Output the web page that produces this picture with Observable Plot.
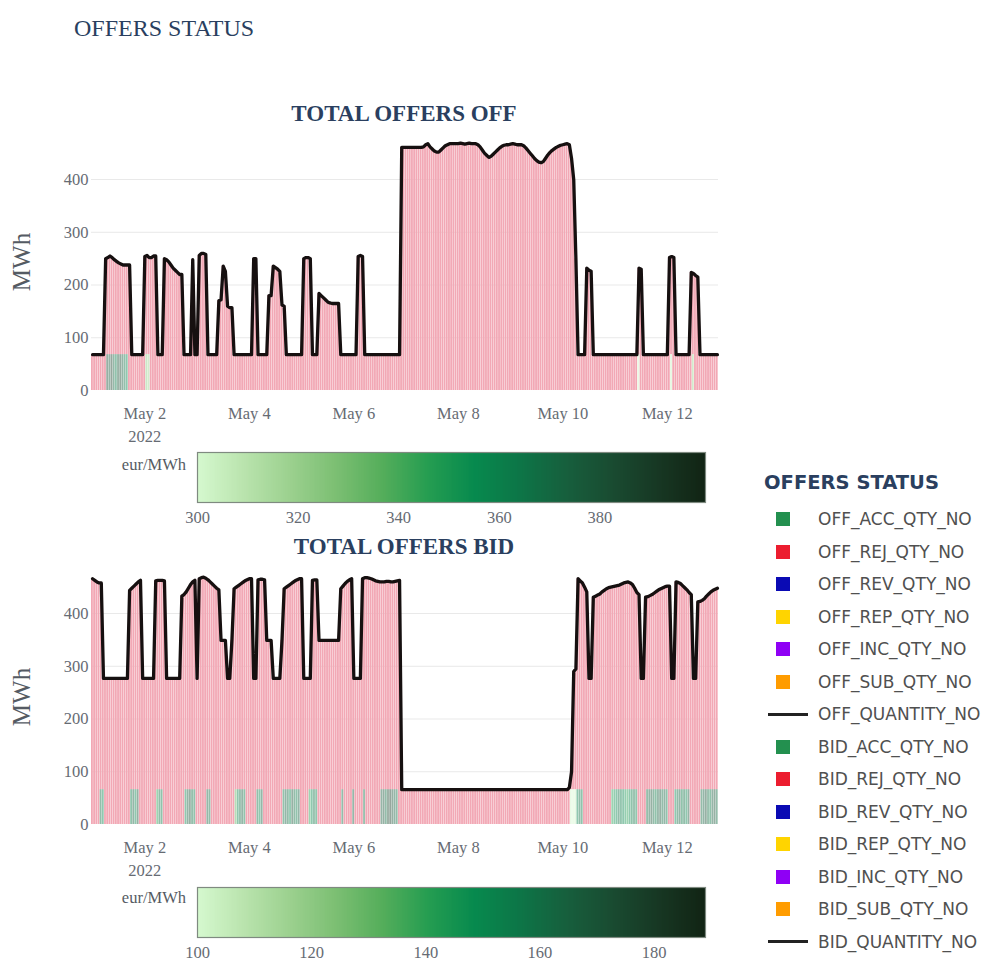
<!DOCTYPE html>
<html><head><meta charset="utf-8">
<script src="https://cdn.jsdelivr.net/npm/d3@7"></script>
<script src="https://cdn.jsdelivr.net/npm/@observablehq/plot@0.6"></script>
<style>
body{margin:0;background:#fff;}
#page{position:relative;width:985px;height:967px;overflow:hidden;background:#fff;}
.abs{position:absolute;white-space:nowrap;}
</style></head>
<body><div id="page"></div>
<script>
// ---------- DATA (hourly, starting 2022-05-01 00:00) ----------
const startDate = "2022-05-01";
const offQty = [
  68,68,68,68,68,68,250,252,255,252,248,245,242,240,238,238,238,238,68,68,68,68,68,68,
  254,256,252,252,255,255,68,68,68,250,248,244,238,232,228,224,220,220,68,68,68,68,248,68,
  68,256,260,260,258,68,68,68,68,68,170,172,236,226,160,157,157,68,68,68,68,68,68,68,
  68,68,250,250,68,68,68,68,68,180,180,236,233,230,226,162,160,68,68,68,68,68,68,68,
  68,250,252,252,250,68,68,68,184,180,176,172,168,166,165,165,165,165,68,68,68,68,68,68,
  68,68,254,256,254,68,68,68,68,68,68,68,68,68,68,68,68,68,68,68,68,68,461,461,
  461,461,461,461,461,461,461,461,462,466,468,462,458,454,452,452,456,460,464,466,468,468,468,468,
  468,469,468,467,468,469,468,468,468,466,462,456,450,446,442,444,448,452,456,460,463,465,466,466,
  467,468,467,466,466,466,464,460,455,450,445,440,436,433,432,434,440,446,451,455,458,461,463,465,
  466,467,468,466,440,400,250,68,68,68,68,232,228,226,68,68,68,68,68,68,68,68,68,68,
  68,68,68,68,68,68,68,68,68,68,68,232,230,68,68,68,68,68,68,68,68,68,68,68,
  68,252,254,252,68,68,68,68,68,68,68,224,222,218,215,68,68,68,68,68,68,68,68,68
];
const bidQty = [
  466,463,460,458,458,277,277,277,277,277,277,277,277,277,277,277,277,444,448,452,456,460,463,277,
  277,277,277,277,277,462,463,463,463,462,277,277,277,277,277,277,277,433,436,441,448,455,460,463,
  277,466,468,469,467,464,460,456,452,448,445,349,349,349,277,277,349,447,450,453,456,459,462,464,
  466,466,277,277,464,465,465,464,349,349,349,277,277,277,277,349,447,450,453,456,459,462,464,466,
  466,277,277,277,277,463,464,464,349,349,349,349,349,349,349,349,349,349,447,452,457,461,464,466,
  277,277,277,277,466,468,468,467,466,464,462,461,460,460,460,461,461,460,460,461,462,463,66,66,
  66,66,66,66,66,66,66,66,66,66,66,66,66,66,66,66,66,66,66,66,66,66,66,66,
  66,66,66,66,66,66,66,66,66,66,66,66,66,66,66,66,66,66,66,66,66,66,66,66,
  66,66,66,66,66,66,66,66,66,66,66,66,66,66,66,66,66,66,66,66,66,66,66,66,
  66,66,66,70,100,290,295,466,462,458,450,441,277,277,431,433,435,437,441,444,447,449,450,451,
  452,453,454,456,458,459,460,458,455,448,440,436,277,277,431,432,434,436,439,442,445,447,449,451,
  452,452,277,277,460,459,457,453,449,445,440,436,277,277,422,423,425,428,433,437,441,444,446,448
];
// accepted quantities (hour index, MWh, price eur/MWh)
const offAccHour  = [7,8,9,10,11,12,13,14,15,16,25,26,251,266,276];
const offAccQty   = [68,68,68,68,68,68,68,68,68,68,68,68,68,68,68];
const offAccPrice = [382,376,388,370,362,380,385,374,366,358,322,318,302,304,318];
const bidAccHour  = [4,5,18,19,20,21,30,31,32,43,44,45,46,47,53,54,66,67,68,69,70,76,77,78,
  88,89,90,91,92,93,94,95,100,101,102,103,115,120,125,133,134,135,136,137,138,139,140,
  220,221,222,223,224,225,239,240,241,242,243,244,245,246,247,248,249,250,
  255,256,257,258,259,260,261,262,263,264,268,269,270,271,272,273,274,280,281,282,283,284,285,286,287];
const bidAccQty   = bidAccHour.map(() => 66);
const bidAccPrice = [160,150,155,165,150,170,140,160,155,150,165,170,160,155,165,160,130,150,160,165,155,160,150,165,
  155,165,160,150,170,160,155,165,140,150,160,150,160,165,160,165,170,160,175,180,170,165,160,
  102,101,103,150,160,155,140,145,150,160,155,150,145,140,150,155,160,150,
  160,165,170,160,155,165,170,160,165,155,150,160,165,155,160,150,165,160,165,170,160,155,165,170,160];
const offPriceDomain = [300, 401];
const bidPriceDomain = [100, 189];
const offPriceTicks = [300,320,340,360,380];
const bidPriceTicks = [100,120,140,160,180];
const xTickDays = ["2022-05-02","2022-05-04","2022-05-06","2022-05-08","2022-05-10","2022-05-12"];
const xTickLabels = ["May 2\n2022","May 4","May 6","May 8","May 10","May 12"];
const yTicks = [0,100,200,300,400];
const algae = ["#d6f9cf","#bae4ae","#9cd18f","#7cbf73","#55ae5b","#259d51","#078a4e","#0d7547","#175f3d","#194b31","#173723","#112414"];
const legendNames = ["OFF_ACC_QTY_NO","OFF_REJ_QTY_NO","OFF_REV_QTY_NO","OFF_REP_QTY_NO","OFF_INC_QTY_NO","OFF_SUB_QTY_NO","OFF_QUANTITY_NO",
  "BID_ACC_QTY_NO","BID_REJ_QTY_NO","BID_REV_QTY_NO","BID_REP_QTY_NO","BID_INC_QTY_NO","BID_SUB_QTY_NO","BID_QUANTITY_NO"];
const legendColors = ["#23904f","#ec1d2f","#0a0ab4","#ffd400","#8f00f5","#ff9c00","line",
  "#23904f","#ec1d2f","#0a0ab4","#ffd400","#8f00f5","#ff9c00","line"];

// ---------- helpers ----------
const H = 3600e3;
const t0 = Date.parse(startDate + "T00:00:00Z");
const interp = d3.piecewise(d3.interpolateRgb, algae);
const serif = '"Liberation Serif","Times New Roman",serif';
const tickMap = new Map(xTickDays.map((d,i)=>[Date.parse(d+"T00:00:00Z"), xTickLabels[i]]));
const page = document.getElementById("page");

function place(el, left, top){ el.style.position="absolute"; el.style.left=left+"px"; el.style.top=top+"px"; page.appendChild(el); return el; }
function label(text, css){ const d=document.createElement("div"); d.className="abs"; d.textContent=text; Object.assign(d.style, css); page.appendChild(d); return d; }

function chart(qty, accHour, accQty, accPrice, priceDomain){
  const acc = new Map(accHour.map((h,i)=>[h,{q:accQty[i], p:accPrice[i]}]));
  const hours = qty.map((v,h)=>({h, t:new Date(t0+h*H), ta:new Date(t0+h*H-H/2), tb:new Date(t0+h*H+H/2), v, a:acc.get(h)}));
  const accBars = hours.filter(d=>d.a).map(d=>({ta:d.ta, tb:d.tb, y1:0, y2:d.a.q, p:d.a.p}));
  const rejBars = hours.map(d=>({ta:d.ta, tb:d.tb, y1:d.a?d.a.q:0, y2:d.v})).filter(d=>d.y2>d.y1);
  return Plot.plot({
    width:730, height:345, marginLeft:91, marginRight:12, marginTop:30, marginBottom:55,
    style:{background:"transparent", overflow:"visible"},
    x:{type:"utc", domain:[new Date(t0-H/2), new Date(t0+287.5*H)]},
    y:{domain:[0,493]},
    color:{type:"linear", domain:priceDomain, interpolate:interp},
    marks:[
      Plot.gridY({ticks:[100,200,300,400], stroke:"#e9e9e9", strokeOpacity:1, strokeWidth:1}),
      Plot.rect(rejBars, {x1:"ta", x2:"tb", y1:"y1", y2:"y2", fill:"#f2a8b5", insetLeft:0, insetRight:0.35}),
      Plot.rect(accBars, {x1:"ta", x2:"tb", y1:"y1", y2:"y2", fill:"p", fillOpacity:0.45, insetLeft:0, insetRight:0.35}),
      Plot.line(hours, {x:"t", y:"v", stroke:"#161010", strokeWidth:3.3, strokeLinejoin:"round"}),
      Plot.axisY({ticks:yTicks, tickSize:0, tickPadding:3, fontSize:16.5, fontFamily:serif, fill:"#666b73", label:null}),
      Plot.axisX({ticks:xTickDays.map(d=>new Date(d+"T00:00:00Z")), tickFormat:d=>tickMap.get(+d), tickSize:0, tickPadding:12, fontSize:16.5, fontFamily:serif, fill:"#666b73", lineHeight:1.4, label:null})
    ]
  });
}

function colorbar(domain, ticks){
  return Plot.plot({
    width:525, height:90, marginLeft:7, marginRight:10, marginTop:7, marginBottom:33,
    style:{background:"transparent", overflow:"visible"},
    x:{domain}, y:{domain:[0,1], axis:null},
    color:{type:"linear", domain, interpolate:interp},
    marks:[
      Plot.raster({fill:(x,y)=>x, x1:domain[0], x2:domain[1], y1:0, y2:1, width:300, height:1, imageRendering:"auto"}),
      Plot.frame({stroke:"#7f8a80", strokeWidth:1.2}),
      Plot.axisX({ticks, tickSize:0, tickPadding:9, fontSize:16.5, fontFamily:serif, fill:"#666b73", label:null})
    ]
  });
}

// ---------- layout ----------
label("OFFERS STATUS", {left:"74px", top:"15px", font:"24px "+serif, color:"#2a3f5f"});
label("TOTAL OFFERS OFF", {left:"404px", top:"101px", transform:"translateX(-50%)", font:"bold 23px "+serif, color:"#2a3f5f"});
label("TOTAL OFFERS BID", {left:"404px", top:"534px", transform:"translateX(-50%)", font:"bold 23px "+serif, color:"#2a3f5f"});
label("MWh", {left:"22px", top:"262px", transform:"translate(-50%,-50%) rotate(-90deg)", font:"25px "+serif, color:"#555b63"});
label("MWh", {left:"22px", top:"697px", transform:"translate(-50%,-50%) rotate(-90deg)", font:"25px "+serif, color:"#555b63"});
label("eur/MWh", {right:(985-186)+"px", top:"455px", font:"16.5px "+serif, color:"#555b63"});
label("eur/MWh", {right:(985-186)+"px", top:"888px", font:"16.5px "+serif, color:"#555b63"});

place(chart(offQty, offAccHour, offAccQty, offAccPrice, offPriceDomain), 0, 100);
place(chart(bidQty, bidAccHour, bidAccQty, bidAccPrice, bidPriceDomain), 0, 534);
place(colorbar(offPriceDomain, offPriceTicks), 190, 445);
place(colorbar(bidPriceDomain, bidPriceTicks), 190, 880);

// legend
label("OFFERS STATUS", {left:"764px", top:"471px", font:"bold 19.5px 'DejaVu Sans',sans-serif", color:"#2a3f5f"});
legendNames.forEach((name,i)=>{
  const cy = 519 + i*32.5;
  const c = legendColors[i];
  const sw = document.createElement("div"); sw.className="abs";
  if (c === "line") Object.assign(sw.style, {left:"768px", top:(cy-1.5)+"px", width:"40px", height:"3px", background:"#222"});
  else Object.assign(sw.style, {left:"776px", top:(cy-7)+"px", width:"14px", height:"14px", background:c});
  page.appendChild(sw);
  label(name, {left:"818px", top:(cy-11)+"px", font:"17px 'DejaVu Sans',sans-serif", color:"#505050", lineHeight:"22px"});
});
</script>
</body></html>
